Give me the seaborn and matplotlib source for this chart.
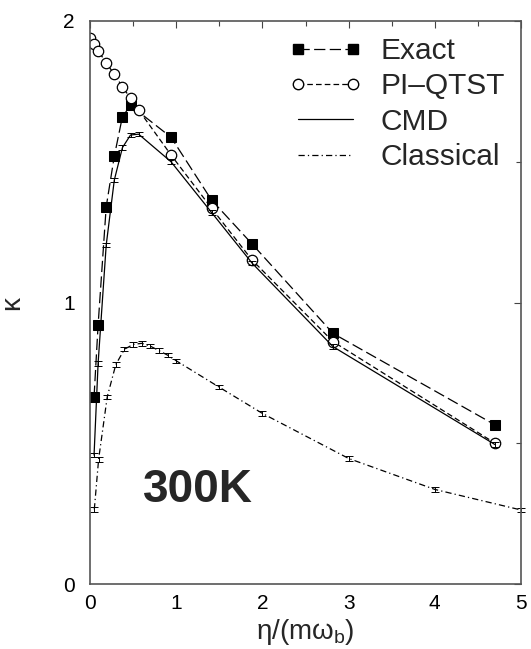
import matplotlib
matplotlib.use("Agg")
import matplotlib.pyplot as plt
import seaborn as sns
import numpy as np
from matplotlib.lines import Line2D

# ---------------- data ----------------
exact_x = [0.047, 0.094, 0.188, 0.282, 0.376, 0.47, 0.94, 1.41, 1.88, 2.82, 4.70]
exact_y = [0.665, 0.92, 1.34, 1.52, 1.66, 1.70, 1.587, 1.364, 1.208, 0.89, 0.565]

qtst_x = [0.0, 0.047, 0.094, 0.188, 0.282, 0.376, 0.47, 0.564, 0.94, 1.41, 1.88, 2.82, 4.70]
qtst_y = [1.94, 1.918, 1.894, 1.852, 1.81, 1.767, 1.725, 1.684, 1.524, 1.335, 1.151, 0.861, 0.50]

cmd_x = [0.047, 0.094, 0.188, 0.282, 0.376, 0.47, 0.564, 0.94, 1.41, 1.88, 2.82, 4.70]
cmd_y = [0.458, 0.784, 1.204, 1.435, 1.55, 1.595, 1.598, 1.50, 1.32, 1.14, 0.843, 0.495]
cmd_err = [0.008] * len(cmd_x)

cl_x = [0.05, 0.1, 0.2, 0.3, 0.4, 0.5, 0.6, 0.7, 0.8, 0.9, 1.0, 1.5, 2.0, 3.0, 4.0, 5.0]
cl_y = [0.265, 0.443, 0.665, 0.78, 0.834, 0.851, 0.855, 0.845, 0.829, 0.813, 0.793,
        0.699, 0.606, 0.446, 0.336, 0.263]
cl_err = [0.008] * len(cl_x)

labels = ["Exact", "PI\u2013QTST", "CMD", "Classical"]
xticks = [0, 1, 2, 3, 4, 5]
yticks = [0, 1, 2]

# ---------------- style ----------------
sns.set_style("white")
plt.rcParams["font.family"] = ["Liberation Sans", "DejaVu Sans"]
plt.rcParams["mathtext.fontset"] = "custom"
plt.rcParams["mathtext.rm"] = "Liberation Sans"
plt.rcParams["mathtext.it"] = "Liberation Sans"

fig = plt.figure(figsize=(5.31, 6.49), dpi=100)
ax = fig.add_axes([90 / 531, 1 - 584 / 649, 431 / 531, 563 / 649])

ls_exact = (0, (9, 3.5))
ls_qtst = (0, (4.5, 2.5))
ls_cl = (0, (5, 2.5, 1, 2.5))

sns.lineplot(x=exact_x, y=exact_y, ax=ax, color="black", linewidth=0.9,
             linestyle=ls_exact, marker="s", markersize=6.5,
             markerfacecolor="black", markeredgecolor="black")
sns.lineplot(x=qtst_x, y=qtst_y, ax=ax, color="black", linewidth=0.9,
             linestyle=ls_qtst, marker="o", markersize=7.5,
             markerfacecolor="white", markeredgecolor="black", markeredgewidth=0.9)
sns.lineplot(x=cmd_x, y=cmd_y, ax=ax, color="black", linewidth=0.9, linestyle="-")
sns.lineplot(x=cl_x, y=cl_y, ax=ax, color="black", linewidth=0.9, linestyle=ls_cl)

ax.errorbar(cmd_x, cmd_y, yerr=cmd_err, fmt="none", ecolor="black",
            elinewidth=0.7, capsize=3, capthick=0.7)
ax.errorbar(cl_x, cl_y, yerr=cl_err, fmt="none", ecolor="black",
            elinewidth=0.7, capsize=3, capthick=0.7, clip_on=False)

ax.set_xlim(0, 5)
ax.set_ylim(0, 2)
ax.set_xticks(xticks)
ax.set_yticks(yticks)
ax.set_xticks(np.arange(0.5, 5, 1.0), minor=True)
ax.set_yticks([0.5, 1.5], minor=True)
ax.tick_params(which="both", direction="in", top=True, right=True,
               colors="#444444", labelcolor="black", width=0.8)
ax.tick_params(which="major", length=5, labelsize=15)
ax.tick_params(which="minor", length=3.5)
ax.tick_params(axis="x", pad=7)
ax.tick_params(axis="y", pad=11)
for s in ax.spines.values():
    s.set_color("#555555")
    s.set_linewidth(1.2)

ax.set_xlabel("\u03b7/(m\u03c9$_\\mathrm{b}$)", fontsize=20, labelpad=3)
ax.set_ylabel("\u03ba", fontsize=20, labelpad=27)

ax.text(0.62, 0.29, "300K", fontsize=33, fontweight="bold", ha="left", va="baseline")

handles = [
    Line2D([], [], color="black", lw=0.9, linestyle=ls_exact, marker="s",
           markersize=6.5, markerfacecolor="black"),
    Line2D([], [], color="black", lw=0.9, linestyle=ls_qtst, marker="o",
           markersize=7.5, markerfacecolor="white", markeredgecolor="black"),
    Line2D([], [], color="black", lw=0.9, linestyle="-"),
    Line2D([], [], color="black", lw=0.9, linestyle=ls_cl),
]
leg = ax.legend(handles, labels, loc="upper left", frameon=False, fontsize=21.5,
                numpoints=2, handlelength=2.45, handletextpad=0.62,
                labelspacing=0.25, borderaxespad=0, borderpad=0,
                bbox_to_anchor=(289 / 531, 1 - 37 / 649), bbox_transform=fig.transFigure)

fig.savefig("out.png", dpi=100)
